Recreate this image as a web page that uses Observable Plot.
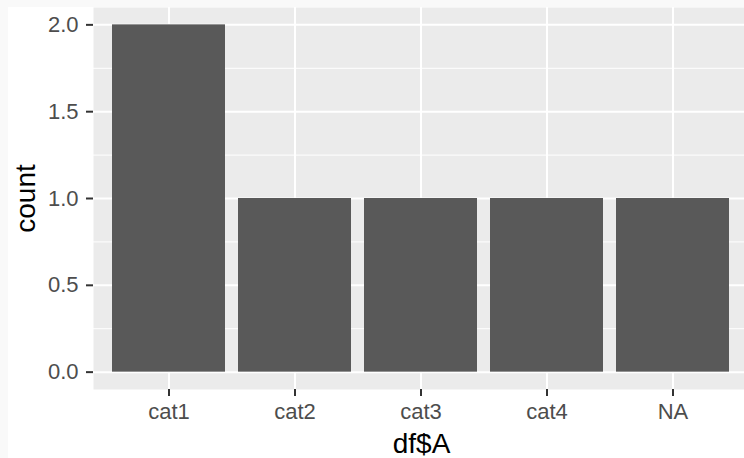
<!DOCTYPE html>
<html>
<head>
<meta charset="utf-8">
<script src="https://cdn.jsdelivr.net/npm/d3@7"></script>
<script src="https://cdn.jsdelivr.net/npm/@observablehq/plot@0.6"></script>
<style>
  html, body { margin: 0; padding: 0; width: 744px; height: 458px; overflow: hidden; background: #f9f9f9; }
  #chart { position: absolute; left: 8px; top: 7px; width: 741px; height: 451px; background: #ffffff; overflow: visible; }
  #chart svg { display: block; font-family: "Liberation Sans", Arial, Helvetica, sans-serif; }
</style>
</head>
<body>
<div id="chart"></div>
<script>
const categories = ["cat1", "cat2", "cat3", "cat4", "NA"];
const counts = [2, 1, 1, 1, 1];
const yTicks = [0, 0.5, 1, 1.5, 2];
const yMinor = [0.25, 0.75, 1.25, 1.75];
const xTitle = "df$A";
const yTitle = "count";

const data = categories.map((c, i) => ({category: c, count: counts[i]}));

const tickFont = 22;
const titleFont = 28;

const chart = Plot.plot({
  width: 741,
  height: 451,
  marginLeft: 85,
  marginRight: 0,
  marginTop: 0,
  marginBottom: 69,
  style: {background: "transparent", fontFamily: "Liberation Sans, Arial, sans-serif"},
  x: {domain: categories, paddingInner: 0.1, paddingOuter: 0.15, align: 0.5, label: null},
  y: {domain: [-0.1, 2.1], label: null},
  marks: [
    Plot.frame({fill: "#EBEBEB", stroke: null}),
    Plot.gridY(yMinor, {stroke: "#ffffff", strokeOpacity: 1, strokeWidth: 1}),
    Plot.gridY(yTicks, {stroke: "#ffffff", strokeOpacity: 1, strokeWidth: 2}),
    Plot.gridX(categories, {stroke: "#ffffff", strokeOpacity: 1, strokeWidth: 2}),
    Plot.barY(data, {x: "category", y: "count", fill: "#595959"}),
    Plot.axisY(yTicks, {tickSize: 7, tickPadding: 8, tickFormat: d3.format(".1f"), fontSize: tickFont, fill: "#4D4D4D", stroke: "#333333", strokeWidth: 2, label: null}),
    Plot.axisX(categories, {tickSize: 7, tickPadding: 7, fontSize: tickFont, fill: "#4D4D4D", stroke: "#333333", strokeWidth: 2, label: null}),
    Plot.text([xTitle], {frameAnchor: "bottom", dy: 63, lineAnchor: "bottom", textAnchor: "middle", fontSize: titleFont, fill: "#000000"}),
    Plot.text([yTitle], {frameAnchor: "left", dx: -59, rotate: -90, lineAnchor: "bottom", textAnchor: "middle", fontSize: titleFont, fill: "#000000"})
  ]
});
document.getElementById("chart").appendChild(chart);
</script>
</body>
</html>
